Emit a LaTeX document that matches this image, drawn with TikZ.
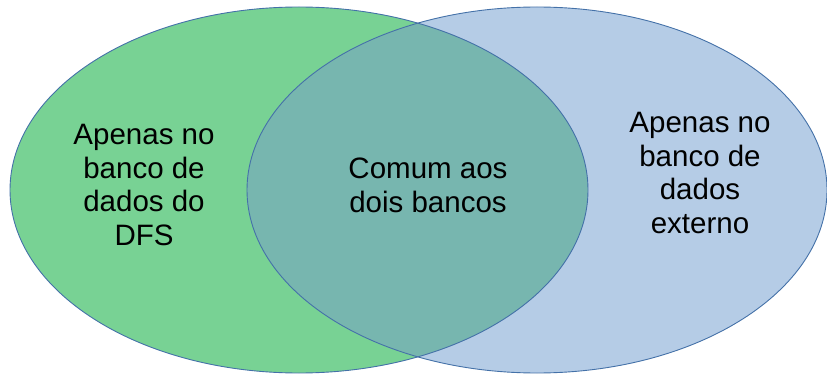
\documentclass[tikz,border=0pt]{standalone}
\usepackage{fontspec}
\setmainfont{Liberation Sans}
\definecolor{vgreen}{HTML}{78D294}
\definecolor{vblue}{HTML}{B5CCE6}
\definecolor{vteal}{HTML}{77B6AF}
\definecolor{vline}{HTML}{4471A8}
\tikzset{
  lbl/.style={align=center, anchor=base, font=\fontsize{29.5}{33.5}\selectfont, inner sep=0pt},
  setline/.style={draw=vline, line width=0.9pt}
}
\begin{document}
\begin{tikzpicture}[x=1pt,y=-1pt]
\useasboundingbox (0,0) rectangle (827,374);
\fill[vgreen] (299,190) ellipse [x radius=289, y radius=183];
\fill[vblue] (537,190) ellipse [x radius=290, y radius=183];
\begin{scope}
\clip (299,190) ellipse [x radius=289, y radius=183];
\fill[vteal] (537,190) ellipse [x radius=290, y radius=183];
\end{scope}
\draw[setline] (299,190) ellipse [x radius=289, y radius=183];
\draw[setline] (537,190) ellipse [x radius=290, y radius=183];
\node[lbl] (a) at (144,245) {Apenas no\\banco de\\dados do\\DFS};
\node[lbl] (c) at (428,212) {Comum aos\\dois bancos};
\node[lbl] (b) at (700,233.3) {Apenas no\\banco de\\dados\\externo};
\end{tikzpicture}
\end{document}
